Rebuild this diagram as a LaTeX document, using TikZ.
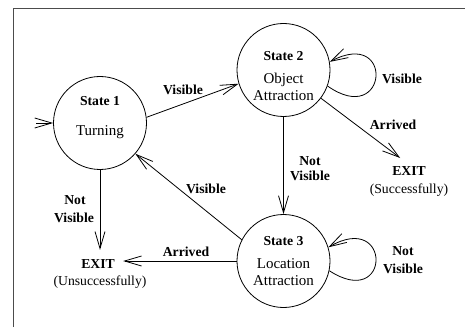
\documentclass[tikz,border=0pt]{standalone}
\usepackage{fontspec}
\setmainfont{Liberation Serif}
\usetikzlibrary{arrows.meta}

\begin{document}
\begin{tikzpicture}[x=1pt, y=1pt, line width=0.8pt,
  >={Straight Barb[length=17pt,width=10pt]},
  state/.style={draw, circle, minimum size=93pt, inner sep=0pt},
  lbl/.style={anchor=base, inner sep=1pt, font=\fontsize{13.7}{16}\selectfont\bfseries},
  note/.style={anchor=base, inner sep=1pt, font=\fontsize{13.7}{16}\selectfont},
  txt/.style={anchor=base, inner sep=1pt, font=\fontsize{15}{18}\selectfont}]

  \useasboundingbox (0,0) rectangle (465,327);
  \draw[gray!60!black] (13,0) |- (465,319);

  \node[state] (s1) at (100,204) {};
  \node[state] (s2) at (283.5,257) {};
  \node[state] (s3) at (283.5,66) {};

  \node[lbl] (s1name) at (100,221) {State 1};
  \node[txt] (s1what) at (100,192) {Turning};
  \node[lbl] (s2name) at (283.5,266.3) {State 2};
  \node[txt] (s2what) at (283.5,243.7) {Object};
  \node[txt] (s2whatb) at (283.5,226) {Attraction};
  \node[lbl] (s3name) at (283.5,82) {State 3};
  \node[txt] (s3what) at (283.5,59) {Location};
  \node[txt] (s3whatb) at (283.5,42) {Attraction};

  \node[lbl] (exitok) at (409,152) {EXIT};
  \node[note] (exitoknote) at (409,133.5) {(Successfully)};
  \node[lbl] (exitfail) at (98,58.7) {EXIT};
  \node[note] (exitfailnote) at (100,42) {(Unsuccessfully)};

  \coordinate (start) at (36,204);
  \draw[->] (start) -- (s1);

  \draw[->] (s1.7) -- (s2.197);
  \node[lbl] (vis12) at (183,232.7) {Visible};

  \draw[->] (s2.-20) to[out=-35, in=28, looseness=7.8] (s2.10);
  \node[lbl] (vis22) at (402,243.7) {Visible};

  \draw[->, shorten >=11pt] (s2) -- (exitok.north);
  \node[lbl] (arr2) at (393,197.7) {Arrived};

  \draw[->] (s2) -- (s3);
  \node[lbl] (nv23) at (310,162) {Not};
  \node[lbl] (nv23b) at (310,146.3) {Visible};

  \draw[->] (s3.-12) to[out=-33, in=30, looseness=8] (s3.17);
  \node[lbl] (nv33) at (403,71.3) {Not};
  \node[lbl] (nv33b) at (403,53.7) {Visible};

  \draw[->] (s3.153) -- (s1.-41);
  \node[lbl] (vis31) at (206,133.7) {Visible};

  \draw[->, shorten >=7pt] (s3) -- (s3 -| exitfail.east);
  \node[lbl] (arr3) at (186,70.3) {Arrived};

  \draw[->, shorten >=8pt] (s1) -- (s1 |- exitfail.north);
  \node[lbl] (nv1) at (75,122.7) {Not};
  \node[lbl] (nv1b) at (74,104.3) {Visible};

\end{tikzpicture}
\end{document}
